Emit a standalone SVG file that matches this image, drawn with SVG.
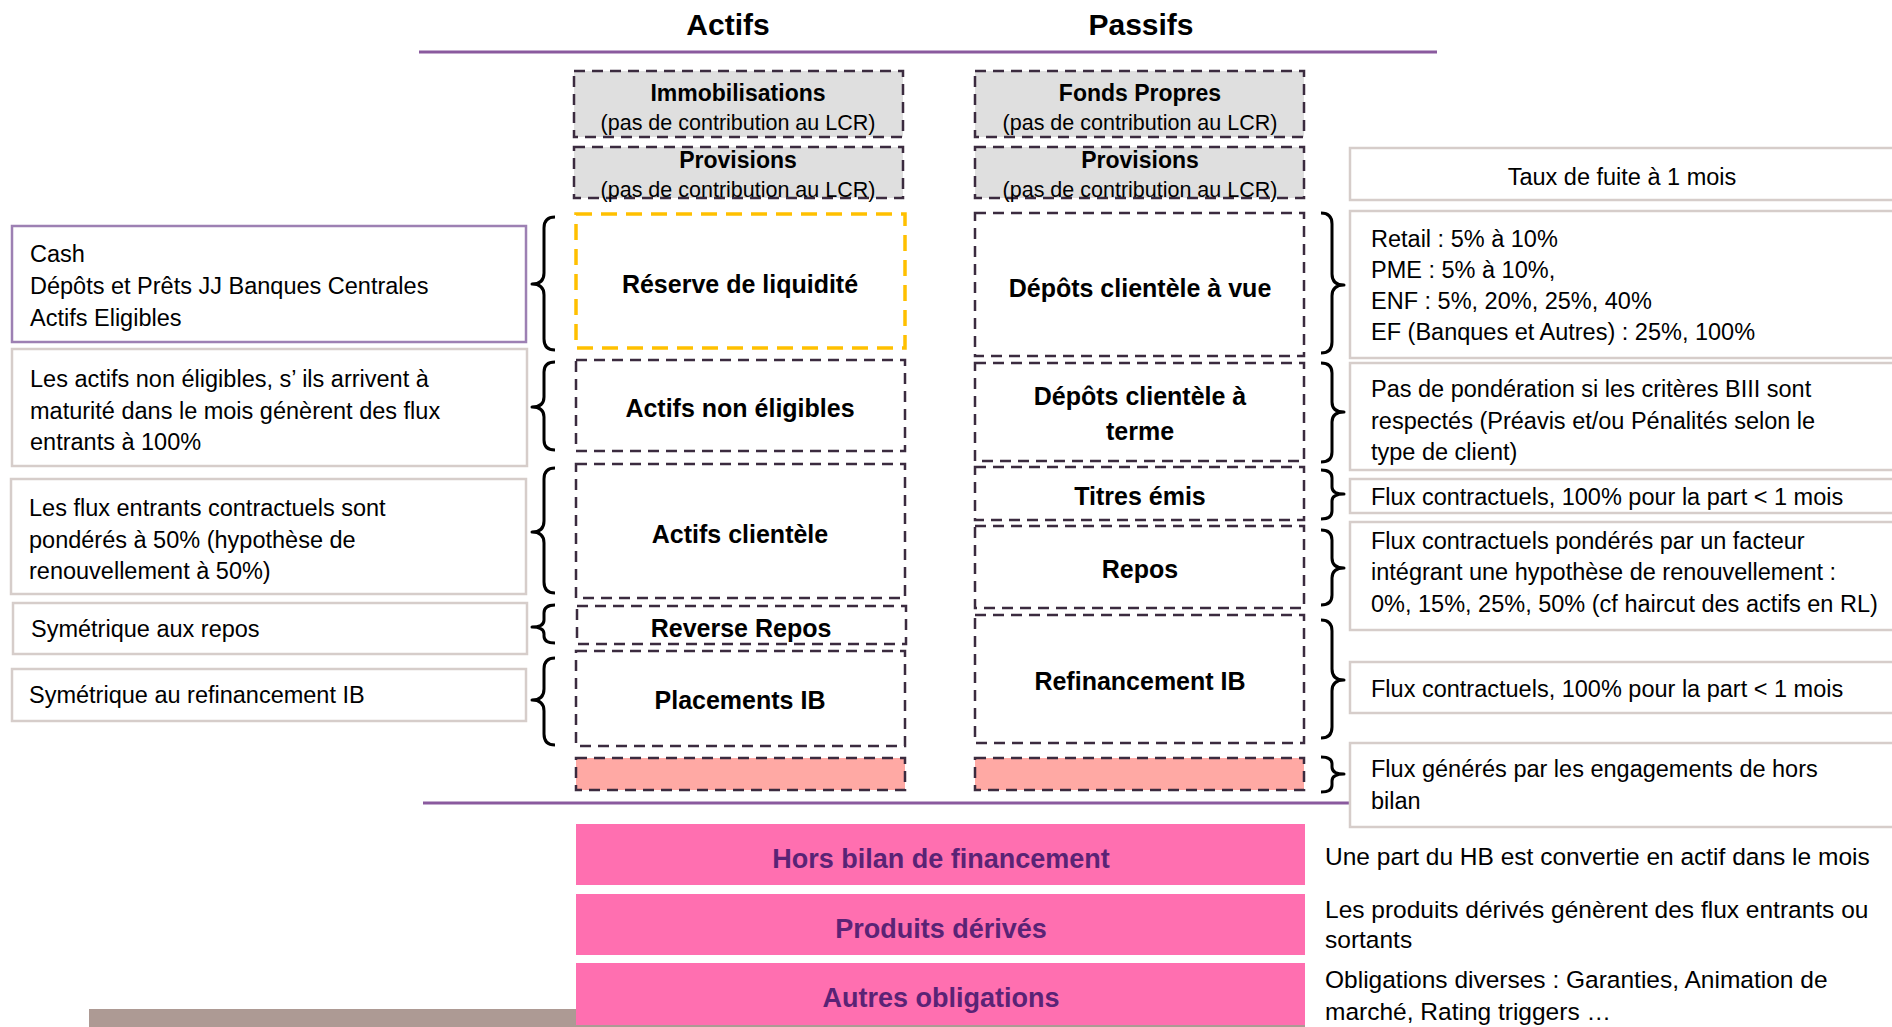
<svg xmlns="http://www.w3.org/2000/svg" width="1892" height="1027" viewBox="0 0 1892 1027">
<defs>
<style>
text{font-family:"Liberation Sans",Arial,sans-serif;fill:#000}
.title{font-size:30px;font-weight:bold;text-anchor:middle}
.lbl{font-size:25px;font-weight:bold;text-anchor:middle}
.hdr{font-size:23px;font-weight:bold;text-anchor:middle}
.sub{font-size:21.5px;text-anchor:middle}
.side{font-size:23.5px}
.low{font-size:24.5px}
.dash{fill:#fff;stroke:#3b2b3f;stroke-width:2.5;stroke-dasharray:11 7}
.gray{fill:#dfdfdf}
.salmon{fill:#ffa9a4}
.yellow{fill:#fff;stroke:#ffc000;stroke-width:3.5;stroke-dasharray:16 9}
.note{fill:#fff;stroke:#d6cdca;stroke-width:2.5}
.brace{fill:none;stroke:#000;stroke-width:3;stroke-linejoin:round}
.bar{fill:#ff6fb0}
.barText{font-size:27px;font-weight:bold;text-anchor:middle;fill:#5a2375}
.sep{stroke:#8a5a9e;stroke-width:3}
</style>
</defs>
<rect width="1892" height="1027" fill="#fff"/>

<g id="headers">
<text class="title" x="728" y="35">Actifs</text>
<text class="title" x="1141" y="35">Passifs</text>
<line class="sep" x1="419" y1="52" x2="1437" y2="52"/>
<line class="sep" x1="423" y1="803" x2="1352" y2="803"/>
</g>

<g id="bottom-strip"><rect x="89" y="1009" width="1216" height="18" fill="#ad9a94"/></g>

<g id="left-column">
<g id="immobilisations"><rect class="dash gray" x="574" y="71" width="329" height="66"/><text class="hdr" x="738" y="101">Immobilisations</text><text class="sub" x="738" y="130">(pas de contribution au LCR)</text></g>
<g id="provisions-actif"><rect class="dash gray" x="574" y="147" width="329" height="51"/><text class="hdr" x="738" y="168">Provisions</text><text class="sub" x="738" y="197">(pas de contribution au LCR)</text></g>
<g id="reserve"><rect class="yellow" x="576" y="214" width="329" height="134"/><text class="lbl" x="740" y="293">Réserve de liquidité</text></g>
<g id="actifs-non-eligibles"><rect class="dash" x="576" y="360" width="329" height="91"/><text class="lbl" x="740" y="417">Actifs non éligibles</text></g>
<g id="actifs-clientele"><rect class="dash" x="576" y="464" width="329" height="134"/><text class="lbl" x="740" y="543">Actifs clientèle</text></g>
<g id="reverse-repos"><rect class="dash" x="577" y="606" width="329" height="38"/><text class="lbl" x="741" y="637">Reverse Repos</text></g>
<g id="placements-ib"><rect class="dash" x="576" y="651" width="329" height="95"/><text class="lbl" x="740" y="709">Placements IB</text></g>
<g id="hb-actif"><rect class="dash salmon" x="576" y="758" width="329" height="32"/></g>
</g>

<g id="right-column">
<g id="fonds-propres"><rect class="dash gray" x="975" y="71" width="329" height="66"/><text class="hdr" x="1140" y="101">Fonds Propres</text><text class="sub" x="1140" y="130">(pas de contribution au LCR)</text></g>
<g id="provisions-passif"><rect class="dash gray" x="975" y="147" width="329" height="51"/><text class="hdr" x="1140" y="168">Provisions</text><text class="sub" x="1140" y="197">(pas de contribution au LCR)</text></g>
<g id="depots-vue"><rect class="dash" x="975" y="213" width="329" height="143"/><text class="lbl" x="1140" y="297">Dépôts clientèle à vue</text></g>
<g id="depots-terme"><rect class="dash" x="975" y="363" width="329" height="98"/><text class="lbl" x="1140" y="405">Dépôts clientèle à</text><text class="lbl" x="1140" y="440">terme</text></g>
<g id="titres-emis"><rect class="dash" x="975" y="467" width="329" height="53"/><text class="lbl" x="1140" y="505">Titres émis</text></g>
<g id="repos"><rect class="dash" x="975" y="526" width="329" height="82"/><text class="lbl" x="1140" y="578">Repos</text></g>
<g id="refinancement-ib"><rect class="dash" x="975" y="615" width="329" height="128"/><text class="lbl" x="1140" y="690">Refinancement IB</text></g>
<g id="hb-passif"><rect class="dash salmon" x="975" y="758" width="329" height="32"/></g>
</g>

<g id="left-notes">
<g id="note-cash"><rect x="12" y="226" width="514" height="116" fill="#fff" stroke="#9d80b3" stroke-width="2.5"/>
<text class="side" x="30" y="262">Cash</text><text class="side" x="30" y="294">Dépôts et Prêts JJ Banques Centrales</text><text class="side" x="30" y="326">Actifs Eligibles</text></g>
<g id="note-ane"><rect class="note" x="12" y="349" width="515" height="117"/>
<text class="side" x="30" y="387">Les actifs non éligibles, s’ ils arrivent à</text><text class="side" x="30" y="419">maturité dans le mois génèrent des flux</text><text class="side" x="30" y="450">entrants à 100%</text></g>
<g id="note-ac"><rect class="note" x="11" y="479" width="515" height="115"/>
<text class="side" x="29" y="516">Les flux entrants contractuels sont</text><text class="side" x="29" y="548">pondérés à 50% (hypothèse de</text><text class="side" x="29" y="579">renouvellement à 50%)</text></g>
<g id="note-rr"><rect class="note" x="13" y="603" width="514" height="51"/><text class="side" x="31" y="637">Symétrique aux repos</text></g>
<g id="note-pib"><rect class="note" x="12" y="669" width="514" height="52"/><text class="side" x="29" y="703">Symétrique au refinancement IB</text></g>
</g>

<g id="right-notes">
<g id="note-taux"><rect class="note" x="1350" y="148" width="560" height="52"/><text class="side" x="1622" y="185" text-anchor="middle">Taux de fuite à 1 mois</text></g>
<g id="note-vue"><rect class="note" x="1350" y="211" width="560" height="147"/>
<text class="side" x="1371" y="247">Retail : 5% à 10%</text><text class="side" x="1371" y="278">PME : 5% à 10%,</text><text class="side" x="1371" y="309">ENF : 5%, 20%, 25%, 40%</text><text class="side" x="1371" y="340">EF (Banques et Autres) : 25%, 100%</text></g>
<g id="note-terme"><rect class="note" x="1350" y="363" width="560" height="107"/>
<text class="side" x="1371" y="397">Pas de pondération si les critères BIII sont</text><text class="side" x="1371" y="429">respectés (Préavis et/ou Pénalités selon le</text><text class="side" x="1371" y="460">type de client)</text></g>
<g id="note-titres"><rect class="note" x="1350" y="479" width="560" height="34"/><text class="side" x="1371" y="505">Flux contractuels, 100% pour la part &lt; 1 mois</text></g>
<g id="note-repos"><rect class="note" x="1350" y="522" width="560" height="108"/>
<text class="side" x="1371" y="549">Flux contractuels pondérés par un facteur</text><text class="side" x="1371" y="580">intégrant une hypothèse de renouvellement :</text><text class="side" x="1371" y="612">0%, 15%, 25%, 50% (cf haircut des actifs en RL)</text></g>
<g id="note-refi"><rect class="note" x="1350" y="662" width="560" height="51"/><text class="side" x="1371" y="697">Flux contractuels, 100% pour la part &lt; 1 mois</text></g>
<g id="note-hb"><rect class="note" x="1350" y="743" width="560" height="84"/>
<text class="side" x="1371" y="777">Flux générés par les engagements de hors</text><text class="side" x="1371" y="809">bilan</text></g>
</g>

<g id="off-balance">
<g id="hors-bilan"><rect class="bar" x="576" y="824" width="729" height="61"/><text class="barText" x="941" y="868">Hors bilan de financement</text>
<text class="low" x="1325" y="865">Une part du HB est convertie en actif dans le mois</text></g>
<g id="derives"><rect class="bar" x="576" y="894" width="729" height="61"/><text class="barText" x="941" y="938">Produits dérivés</text>
<text class="low" x="1325" y="918">Les produits dérivés génèrent des flux entrants ou</text><text class="low" x="1325" y="948">sortants</text></g>
<g id="autres"><rect class="bar" x="576" y="963" width="729" height="62"/><text class="barText" x="941" y="1007">Autres obligations</text>
<text class="low" x="1325" y="988">Obligations diverses : Garanties, Animation de</text><text class="low" x="1325" y="1020">marché, Rating triggers …</text></g>
</g>

<g id="connectors">
<path class="brace" d="M555,217 Q544,217 544,228 L544,273 Q544,284 532,284 Q544,284 544,295 L544,339 Q544,350 555,350"/>
<path class="brace" d="M555,362 Q544,362 544,372 L544,397 Q544,407 532,407 Q544,407 544,417 L544,440 Q544,450 555,450"/>
<path class="brace" d="M555,468 Q544,468 544,479 L544,521 Q544,532 532,532 Q544,532 544,543 L544,582 Q544,593 555,593"/>
<path class="brace" d="M555,605 Q544,605 544,613 L544,620 Q544,627 532,627 Q544,627 544,634 L544,636 Q544,643 555,643"/>
<path class="brace" d="M555,658 Q544,658 544,669 L544,689 Q544,700 532,700 Q544,700 544,711 L544,734 Q544,745 555,745"/>

<path class="brace" d="M1321,213 Q1332,213 1332,224 L1332,274 Q1332,285 1344,285 Q1332,285 1332,296 L1332,342 Q1332,353 1321,353"/>
<path class="brace" d="M1321,363 Q1332,363 1332,373 L1332,402 Q1332,412 1344,412 Q1332,412 1332,422 L1332,452 Q1332,462 1321,462"/>
<path class="brace" d="M1321,470 Q1332,470 1332,478 L1332,487 Q1332,494 1344,494 Q1332,494 1332,501 L1332,511 Q1332,519 1321,519"/>
<path class="brace" d="M1321,530 Q1332,530 1332,540 L1332,558 Q1332,568 1344,568 Q1332,568 1332,578 L1332,595 Q1332,605 1321,605"/>
<path class="brace" d="M1321,620 Q1332,620 1332,631 L1332,669 Q1332,680 1344,680 Q1332,680 1332,691 L1332,727 Q1332,738 1321,738"/>
<path class="brace" d="M1321,757 Q1332,757 1332,764 L1332,767 Q1332,774 1344,774 Q1332,774 1332,781 L1332,785 Q1332,792 1321,792"/>
</g>
</svg>
